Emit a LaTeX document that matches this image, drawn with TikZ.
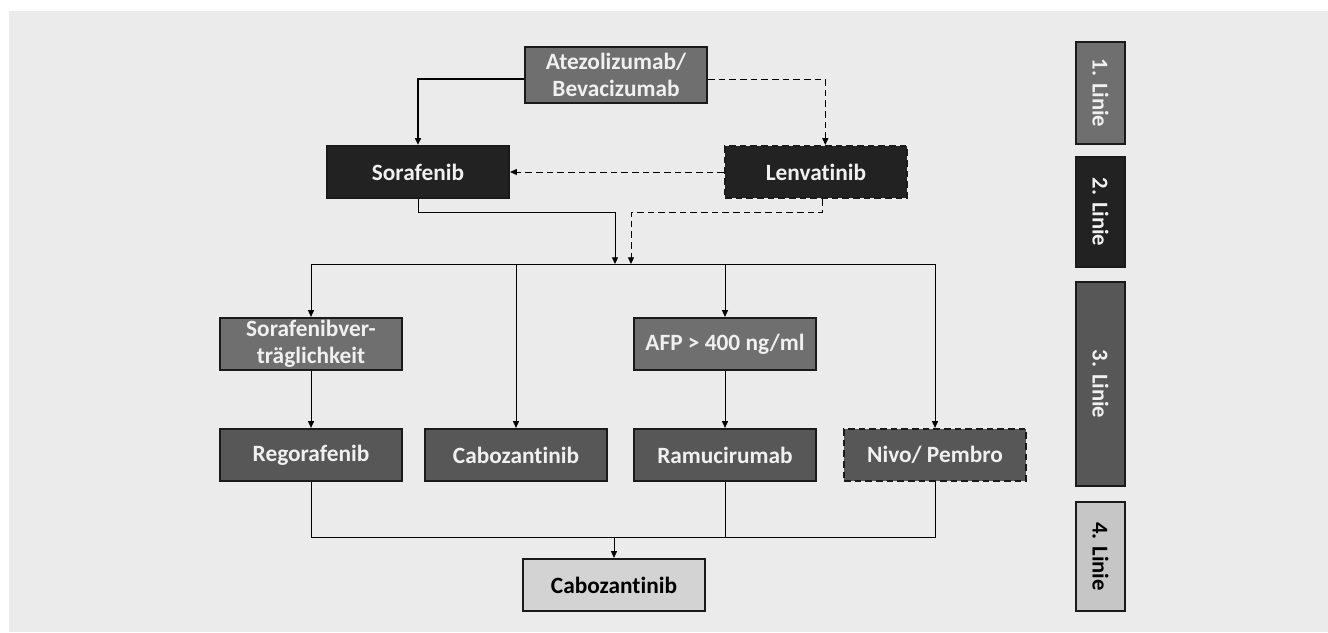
\documentclass[tikz,border=0pt]{standalone}
\usepackage{fontspec}
\setmainfont{Carlito}[Ligatures=NoCommon]
\usepackage{tikz}
\usetikzlibrary{arrows.meta}
\usetikzlibrary{positioning}
\definecolor{bgc}{HTML}{EBEBEB}
\definecolor{midgray}{HTML}{6F6F6F}
\definecolor{darkbox}{HTML}{222222}
\definecolor{thirdgray}{HTML}{575757}
\definecolor{lightbox}{HTML}{D3D3D3}
\definecolor{fourthgray}{HTML}{C6C6C6}
\definecolor{boxline}{HTML}{1A1A1A}
\definecolor{txt}{HTML}{F0F0F0}
\tikzset{
    therapy/.style={rectangle, draw=boxline, line width=1.7pt, text=txt, align=center,
        minimum width=136.5pt, minimum height=39pt, inner sep=1pt,
        font=\fontsize{17.5}{20}\selectfont\bfseries},
    dashbox/.style={dash pattern=on 5pt off 3pt},
    linie/.style={rectangle, draw=boxline, line width=1.6pt, text=txt, rotate=-90,
        minimum height=36.75pt, inner sep=2pt, font=\fontsize{17}{20}\selectfont\bfseries},
    arr/.style={-{Triangle[length=5pt,width=4.5pt]}, line width=0.6pt},
    dsh/.style={dash pattern=on 5pt off 3pt},
}
\begin{document}
\begin{tikzpicture}[x=0.75pt, y=-0.75pt]

            % Background
            \useasboundingbox (0,0) rectangle (1328,632);
            \fill[bgc] (9,11) rectangle (1328,632);

            % 1. und 2. Linie
            \node[therapy, fill=midgray, minimum height=42pt] (atezo) at (616,75) {Atezolizumab/\\Bevacizumab};
            \node[therapy, fill=darkbox] (soraf) at (418,172) {Sorafenib};
            \node[therapy, fill=darkbox, dashbox] (lenva) at (816,172) {Lenvatinib};

            % 3. Linie
            \node[therapy, fill=midgray] (sorvert) at (311,344) {Sorafenibver-\\träglichkeit};
            \node[therapy, fill=midgray] (afp) at (725,344) {AFP > 400 ng/ml};
            \node[therapy, fill=thirdgray] (rego) at (311,455) {Regorafenib};
            \node[therapy, fill=thirdgray] (cabo) at (516,455) {Cabozantinib};
            \node[therapy, fill=thirdgray] (ramu) at (725,455) {Ramucirumab};
            \node[therapy, fill=thirdgray, dashbox] (nivo) at (935,455) {Nivo/ Pembro};

            % 4. Linie
            \node[therapy, fill=lightbox, text=black] (cabofour) at (614,585) {Cabozantinib};

            % Legende rechts
            \node[linie, fill=midgray, minimum width=76.5pt] (lone) at (1100.5,93) {1. Linie};
            \node[linie, fill=darkbox, minimum width=82.5pt] (ltwo) at (1100.5,212) {2. Linie};
            \node[linie, fill=thirdgray, minimum width=153pt] (lthree) at (1100.5,384) {3. Linie};
            \node[linie, fill=fourthgray, text=black, minimum width=81.75pt] (lfour) at (1100.5,556.5) {4. Linie};

            % Hilfspunkte
            \coordinate (bar) at (0,264);
            \coordinate (join) at (0,537);
            \coordinate (inS) at (615,264);
            \coordinate (inL) at (631,264);

            % Verbindungen oben
            \draw[arr, line width=1.1pt] ([yshift=-3pt]atezo.west) -| (soraf.north);
            \draw[arr, dsh] ([yshift=-3pt]atezo.east) -| ([xshift=7pt]lenva.north);
            \draw[arr, dsh] (lenva.west) -- (soraf.east);
            \draw[arr] (soraf.south) -- ++(0,13) -| (inS);
            \draw[arr, dsh] ([xshift=5pt]lenva.south) -- ++(0,13) -| (inL);

            % Verteilung
            \draw[line width=0.6pt] (sorvert.north |- bar) -- (nivo.north |- bar);
            \foreach \n in {sorvert, cabo, afp, nivo}
                \draw[arr] (\n.north |- bar) -- (\n.north);
            \draw[arr] (sorvert) -- (rego);
            \draw[arr] (afp) -- (ramu);

            % Zusammenfuehrung
            \draw[line width=0.6pt] (rego.south) |- (nivo.south |- join) -- (nivo.south);
            \draw[line width=0.6pt] (ramu.south) -- (ramu.south |- join);
            \draw[arr] (cabofour.north |- join) -- (cabofour.north);

        \end{tikzpicture}
\end{document}
